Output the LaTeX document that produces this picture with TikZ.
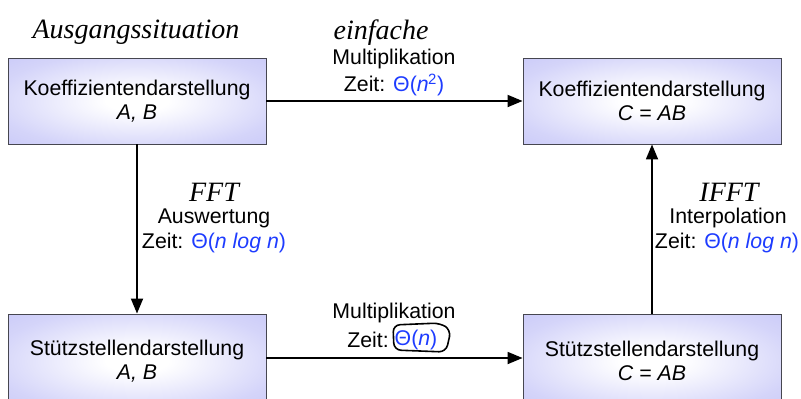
\documentclass[tikz,border=0pt]{standalone}
\usepackage{fontspec}
\setmainfont{Liberation Sans}
\newfontfamily\handfont{Liberation Serif}
\usetikzlibrary{arrows.meta}
\definecolor{boxedge}{RGB}{178,178,245}
\definecolor{boxline}{RGB}{70,70,80}
\definecolor{theta}{RGB}{30,60,255}
\pgfdeclareradialshading{boxshade}{\pgfpoint{0bp}{0bp}}{%
  color(0bp)=(white); color(6bp)=(white); color(28bp)=(boxedge!55!white);
  color(50bp)=(boxedge!88!white); color(68bp)=(boxedge); color(100bp)=(boxedge)}
\begin{document}
\begin{tikzpicture}[x=1pt,y=-1pt,
  repbox/.style={draw=boxline, line width=0.9pt, shading=boxshade,
    minimum width=258pt, minimum height=86pt, align=center,
    font=\fontsize{21.3}{24.5}\selectfont},
  lbl/.style={inner sep=0pt, font=\fontsize{21.3}{24}\selectfont},
  hand/.style={inner sep=0pt, font=\handfont\itshape\fontsize{28}{30}\selectfont},
  conn/.style={line width=1.8pt, -{Triangle[length=15pt,width=12pt]}}]
\clip (0,0) rectangle (801,399);
\useasboundingbox (0,0) rectangle (801,399);
\node[repbox] (tl) at (137,101) {Koeffizientendarstellung\\\textit{A, B}};
\node[repbox] (tr) at (652,101) {Koeffizientendarstellung\\\textit{C = AB}};
\node[repbox, minimum height=94pt] (bl) at (137,361) {Stützstellendarstellung\\\textit{A, B}};
\node[repbox, minimum height=94pt] (br) at (652,361) {Stützstellendarstellung\\\textit{C = AB}};
\draw[conn] (tl) -- (tr);
\draw[conn] ([yshift=3pt]bl.east) -- ([yshift=3pt]br.west);
\draw[conn] (tl) -- (bl);
\draw[conn] (br) -- (tr);
% top labels
\node[hand] (h1) at (136,32) {Ausgangssituation};
\node[hand] (h2) at (381,33) {einfache};
\node[lbl] (m1) at (394,59) {Multiplikation};
\node[lbl] (z1) at (394,85) {Zeit: \textcolor{theta}{Θ(\textit{n}\kern-0.5pt\textsuperscript{2})}};
% left labels
\node[hand] (h3) at (214,192) {FFT};
\node[lbl] (a1) at (214,218) {Auswertung};
\node[lbl] (z2) at (214,243) {Zeit: \textcolor{theta}{Θ(\textit{n log n})}};
% right labels
\node[hand] (h4) at (729,192) {IFFT};
\node[lbl] (i1) at (728,218) {Interpolation};
\node[lbl] (z3) at (727,243) {Zeit: \textcolor{theta}{Θ(\textit{n log n})}};
% bottom labels
\node[lbl] (m2) at (394,313) {Multiplikation};
\node[lbl] (z4) at (368,340) {Zeit:};
\node[lbl, text=theta] (t4) at (416,340) {Θ(\textit{n})};
\draw[line width=1.6pt, rounded corners=7pt] (393,325) -- (440,323) -- (451,330) -- (446,352) -- (394,350) -- cycle;
\end{tikzpicture}
\end{document}
